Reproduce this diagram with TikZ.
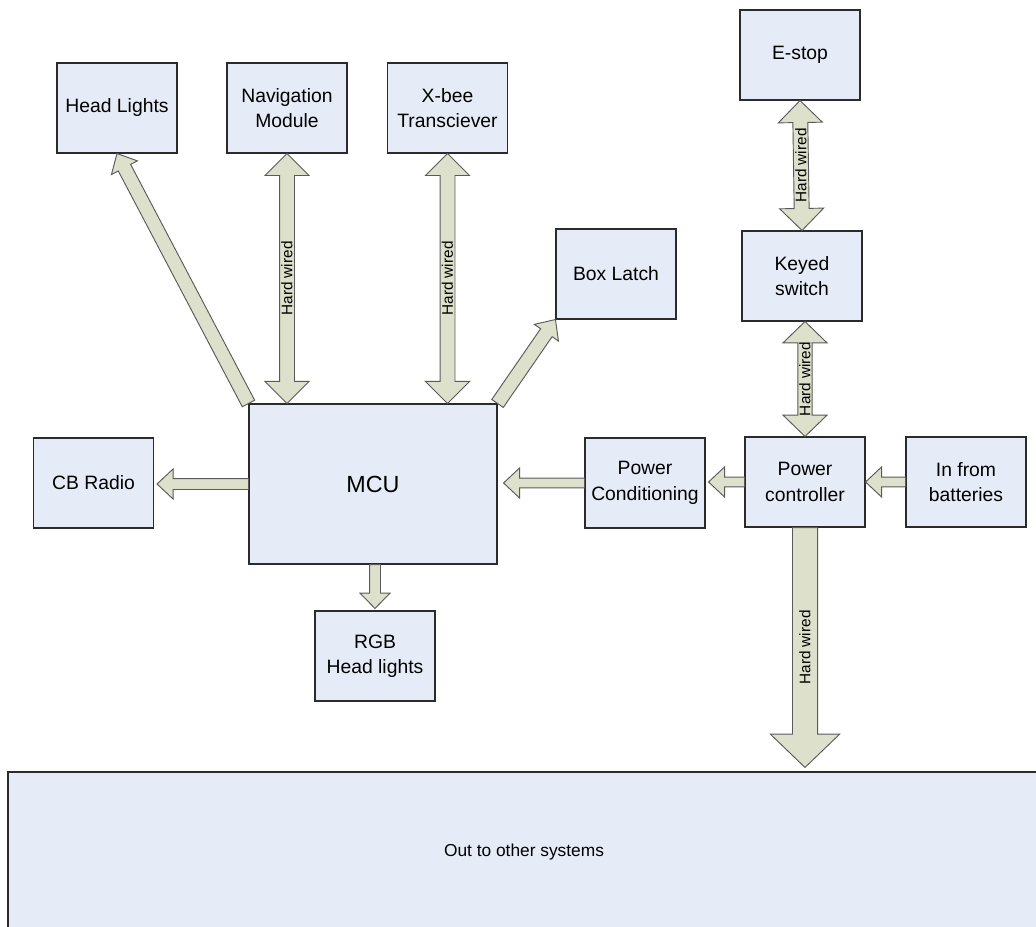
\documentclass[tikz,border=0pt]{standalone}
\usepackage{fontspec}
\setmainfont{Liberation Sans}
\usetikzlibrary{calc,positioning}
\definecolor{boxfill}{HTML}{E6ECF7}
\definecolor{boxline}{HTML}{2B2B2B}
\definecolor{flowfill}{HTML}{DDE0CA}
\definecolor{flowline}{HTML}{5A5A5A}
\tikzset{
    block/.style={
      rectangle,
      draw=boxline, line width=0.8pt,
      fill=boxfill,
      minimum width=90pt,
      minimum height=67.5pt,
      inner sep=2pt,
      align=center,
      font=\fontsize{14.5}{19}\selectfont,
    },
    flow/.style={
      draw=flowline, line width=0.7pt,
      fill=flowfill,
      line join=miter,
    },
    wirelabel/.style={
      rotate=90,
      inner sep=0pt,
      font=\fontsize{11.5}{13}\selectfont,
    },
}
% tail, tip, half shaft, half head, head length
\newcommand{\flowarrow}[5]{%
  \path ($(#2)!#5!(#1)$) coordinate (hb);
  \draw[flow] ($(#1)!#3!90:(#2)$) -- ($(hb)!#3!90:(#2)$) -- ($(hb)!#4!90:(#2)$)
    -- (#2) -- ($(hb)!#4!-90:(#2)$) -- ($(hb)!#3!-90:(#2)$)
    -- ($(#1)!#3!-90:(#2)$) -- cycle;
}
% lower end, upper end, half shaft, half head, head length
\newcommand{\wirearrow}[5]{%
  \path ($(#1)!#5!(#2)$) coordinate (ha) ($(#2)!#5!(#1)$) coordinate (hb);
  \draw[flow] (#1) -- ($(ha)!#4!90:(#2)$) -- ($(ha)!#3!90:(#2)$)
    -- ($(hb)!#3!90:(#2)$) -- ($(hb)!#4!90:(#2)$) -- (#2)
    -- ($(hb)!#4!-90:(#2)$) -- ($(hb)!#3!-90:(#2)$)
    -- ($(ha)!#3!-90:(#2)$) -- ($(ha)!#4!-90:(#2)$) -- cycle;
  \node[wirelabel] at ($(#1)!.5!(#2)$) {Hard wired};
}

\begin{document}
\begin{tikzpicture}[x=0.75pt,y=-0.75pt]
  \useasboundingbox (0,0) rectangle (1036,927);

  % top row
  \node[block] (hl) at (117,108) {Head Lights};
  \node[block] (nav) at (287,108) {Navigation\\Module};
  \node[block] (xbee) at (447.5,108) {X-bee\\Transciever};
  \node[block] (bl) at (616,274) {Box Latch};

  % power chain
  \node[block] (estop) at (800,55) {E-stop};
  \node[block] (key) at (802,276) {Keyed\\switch};
  \node[block] (pctl) at (805,482) {Power\\controller};
  \node[block] (bat) at (966,482) {In from\\batteries};
  \node[block] (pc) at (645,483) {Power\\Conditioning};

  % controller
  \node[block,
  minimum width=186pt,
  minimum height=120pt,
  font=\fontsize{17.5}{21}\selectfont] (mcu) at (373,484) {MCU};
  \node[block] (cb) at (93.5,483) {CB Radio};
  \node[block] (rgb) at (375,656) {RGB\\Head lights};

  \node[block,
  minimum width=774pt,
  minimum height=120pt,
  font=\fontsize{13}{16}\selectfont] (out) at (524,852) {Out to other systems};

  \coordinate (navlo) at (nav.south |- mcu.north);
  \coordinate (xbeelo) at (xbee.south |- mcu.north);
  \coordinate (keylo) at (pctl.north |- key.south);
  \coordinate (cbin) at ($(cb.east |- mcu.west)+(3,0)$);
  \coordinate (mcuout) at (mcu.east |- pc.west);
  \coordinate (mcuin) at ($(mcuout)+(6,0)$);
  \coordinate (pcin) at ($(pc.east |- pctl.west)+(3,0)$);
  \coordinate (rgbout) at (rgb.north |- mcu.south);
  \coordinate (rgbin) at ($(rgb.north)+(0,-2)$);
  \coordinate (outin) at ($(pctl.south |- out.north)+(0,-4)$);

  \flowarrow{mcu.north west}{hl.south}{5.25pt}{11pt}{12pt}
  \flowarrow{mcu.north east}{bl.south west}{5.25pt}{11pt}{12pt}
  \flowarrow{mcu.west}{cbin}{4.1pt}{11.25pt}{12pt}
  \flowarrow{pc.west}{mcuin}{3.6pt}{11.25pt}{12pt}
  \flowarrow{pctl.west}{pcin}{3.6pt}{11.25pt}{12pt}
  \flowarrow{bat.west}{pctl.east}{3.6pt}{11.25pt}{12pt}
  \flowarrow{rgbout}{rgbin}{4.1pt}{11.25pt}{11.5pt}

  \wirearrow{navlo}{nav.south}{5.6pt}{16.5pt}{16.5pt}
  \wirearrow{xbeelo}{xbee.south}{5.6pt}{16.5pt}{16.5pt}
  \wirearrow{key.north}{estop.south}{5.6pt}{16.5pt}{16.5pt}
  \wirearrow{pctl.north}{keylo}{5.4pt}{16.5pt}{16pt}

  \flowarrow{pctl.south}{outin}{9.4pt}{26pt}{25pt}
  \node[wirelabel] at ($(pctl.south)!.5!(outin)$) {Hard wired};
\end{tikzpicture}
\end{document}
